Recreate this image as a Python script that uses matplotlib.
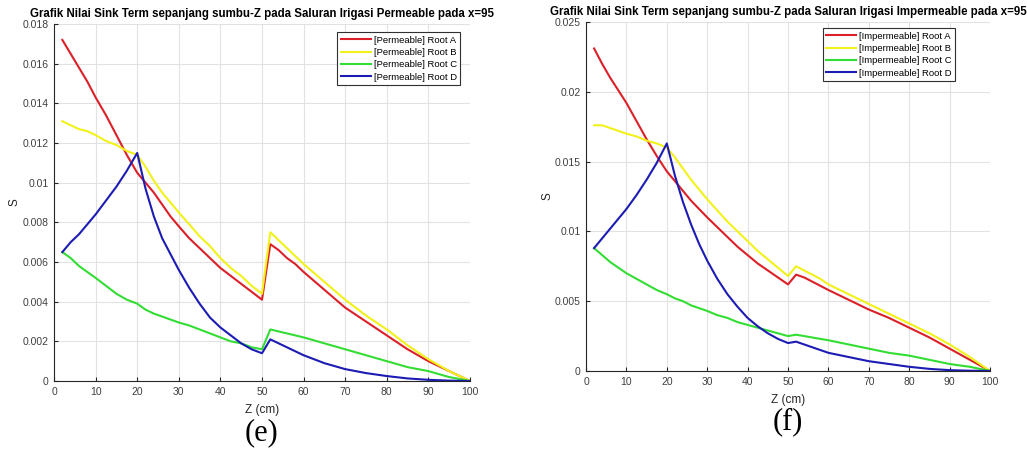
import matplotlib
matplotlib.use("Agg")
from matplotlib import pyplot as plt
from matplotlib.ticker import FuncFormatter

plt.rcParams['font.family'] = ['Liberation Sans', 'DejaVu Sans']

z = [2, 4, 6, 8, 10, 12.5, 15, 17.5, 20, 22, 24, 26, 28, 30, 32.5, 35, 37.5, 40, 42.5, 45, 47.5, 50,
     52, 54, 56, 58, 60, 65, 70, 75, 80, 85, 90, 95, 100]

# (e) permeable channel
perm_a = [0.0172, 0.0165, 0.0158, 0.0151, 0.0143, 0.0134, 0.0124, 0.0114, 0.0105, 0.0100, 0.0095,
          0.0089, 0.0083, 0.0078, 0.0072, 0.0067, 0.0062, 0.0057, 0.0053, 0.0049, 0.0045, 0.0041,
          0.0069, 0.0066, 0.0062, 0.0059, 0.0055, 0.0046, 0.0037, 0.0030, 0.0023, 0.0016, 0.0010,
          0.0005, 0.0]
perm_b = [0.0131, 0.0129, 0.0127, 0.0126, 0.0124, 0.0121, 0.0119, 0.0116, 0.0114, 0.0108, 0.0101,
          0.0095, 0.0090, 0.0085, 0.0079, 0.0073, 0.0068, 0.0062, 0.0057, 0.0053, 0.0048, 0.0044,
          0.0075, 0.0071, 0.0067, 0.0063, 0.0059, 0.0050, 0.0041, 0.0033, 0.0026, 0.0018, 0.0011,
          0.0005, 0.0]
perm_c = [0.0065, 0.0062, 0.0058, 0.0055, 0.0052, 0.0048, 0.0044, 0.0041, 0.0039, 0.0036, 0.0034,
          0.00325, 0.0031, 0.00295, 0.0028, 0.0026, 0.0024, 0.0022, 0.0020, 0.0019, 0.0017, 0.0016,
          0.0026, 0.0025, 0.0024, 0.0023, 0.0022, 0.0019, 0.0016, 0.0013, 0.0010, 0.0007, 0.0005,
          0.0002, 0.0]
perm_d = [0.0065, 0.0070, 0.0074, 0.0079, 0.0084, 0.0091, 0.0098, 0.0106, 0.0115, 0.0097, 0.0083,
          0.0072, 0.0064, 0.0056, 0.0047, 0.0039, 0.0032, 0.0027, 0.0023, 0.0019, 0.0016, 0.0014,
          0.0021, 0.0019, 0.0017, 0.0015, 0.0013, 0.0009, 0.0006, 0.0004, 0.00025, 0.00013, 0.00006,
          0.00002, 0.0]

# (f) impermeable channel
imp_a = [0.0231, 0.0220, 0.0210, 0.0201, 0.0192, 0.0179, 0.0166, 0.0154, 0.0143, 0.0136, 0.0129,
         0.0122, 0.0116, 0.0110, 0.0103, 0.0096, 0.0089, 0.0083, 0.0077, 0.0072, 0.0067, 0.0062,
         0.0069, 0.0067, 0.0064, 0.0061, 0.0058, 0.0051, 0.0044, 0.0038, 0.0031, 0.0024, 0.0016,
         0.0008, 0.0]
imp_b = [0.0176, 0.0176, 0.0174, 0.0172, 0.0170, 0.0168, 0.0165, 0.0163, 0.0160, 0.0153, 0.0145,
         0.0137, 0.0130, 0.0123, 0.0115, 0.0107, 0.0100, 0.0093, 0.0086, 0.0080, 0.0074, 0.0068,
         0.0075, 0.0072, 0.0069, 0.0066, 0.0062, 0.0055, 0.0048, 0.0041, 0.0034, 0.0027, 0.0019,
         0.0010, 0.0]
imp_c = [0.0088, 0.0083, 0.0078, 0.0074, 0.0070, 0.0066, 0.0062, 0.0058, 0.0055, 0.0052, 0.0050,
         0.0047, 0.0045, 0.0043, 0.0040, 0.0038, 0.0035, 0.0033, 0.0031, 0.0029, 0.0027, 0.0025,
         0.0026, 0.0025, 0.0024, 0.0023, 0.0022, 0.0019, 0.0016, 0.0013, 0.0011, 0.0008, 0.0005,
         0.0003, 0.0]
imp_d = [0.0088, 0.0095, 0.0102, 0.0109, 0.0116, 0.0126, 0.0137, 0.0149, 0.0163, 0.0140, 0.0121,
         0.0105, 0.0091, 0.0079, 0.0066, 0.0055, 0.0046, 0.0038, 0.0032, 0.0027, 0.0023, 0.0020,
         0.0021, 0.0019, 0.0017, 0.0015, 0.0013, 0.0010, 0.0007, 0.0005, 0.0003, 0.00015, 0.00006,
         0.00002, 0.0]

roots = ['Root A', 'Root B', 'Root C', 'Root D']
colors = ['#dc2028', '#f2f21a', '#33dd33', '#1c1cb4']


def g_fmt(v, pos):
    return '%g' % round(v, 6)


def draw(ax, series, prefix, title, ymax, ystep, caption, leg_anchor, cap_y):
    for vals, name, c in zip(series, roots, colors):
        ax.plot(z, vals, color=c, lw=1.5, label='[%s] %s' % (prefix, name))
    ax.set_xlim(0, 100)
    ax.set_ylim(0, ymax)
    ax.set_xticks(range(0, 101, 10))
    n = int(round(ymax / ystep))
    ax.set_yticks([i * ystep for i in range(n + 1)])
    ax.yaxis.set_major_formatter(FuncFormatter(g_fmt))
    ax.grid(True, color='#e2e2e2', lw=0.8)
    ax.set_axisbelow(True)
    for s in ['top', 'right']:
        ax.spines[s].set_visible(False)
    for s in ['left', 'bottom']:
        ax.spines[s].set_color('#262626')
        ax.spines[s].set_linewidth(0.8)
    ax.tick_params(direction='in', length=3, labelsize=7.5, colors='#262626',
                   labelcolor='#404040', pad=4)
    ax.set_xlabel('Z (cm)', fontsize=8.5, color='#262626', labelpad=5.5)
    ax.set_ylabel('S', fontsize=8.5, color='#262626', labelpad=1)
    ax.set_title(title, fontsize=8.3, fontweight='bold', pad=5)
    leg = ax.legend(loc='upper right', bbox_to_anchor=leg_anchor, fontsize=6.8,
                    fancybox=False, framealpha=1, edgecolor='#303030',
                    handlelength=3.2, handletextpad=0.3, borderpad=0.35, labelspacing=0.35)
    leg.get_frame().set_linewidth(0.8)
    ax.text(0.5, cap_y, caption, transform=ax.transAxes, ha='center', va='center',
            fontsize=22, family='Liberation Serif')


fig = plt.figure(figsize=(10.27, 4.5), dpi=100)
ax1 = fig.add_axes([0.0526, 0.1533, 0.405, 0.7933])
ax2 = fig.add_axes([0.5706, 0.1756, 0.3934, 0.7756])

draw(ax1, [perm_a, perm_b, perm_c, perm_d], 'Permeable',
     'Grafik Nilai Sink Term sepanjang sumbu-Z pada Saluran Irigasi Permeable pada x=95',
     0.018, 0.002, '(e)', (0.988, 0.99), -0.146)
draw(ax2, [imp_a, imp_b, imp_c, imp_d], 'Impermeable',
     'Grafik Nilai Sink Term sepanjang sumbu-Z pada Saluran Irigasi Impermeable pada x=95',
     0.025, 0.005, '(f)', (0.925, 0.995), -0.145)

fig.savefig('out.png', dpi=100)
